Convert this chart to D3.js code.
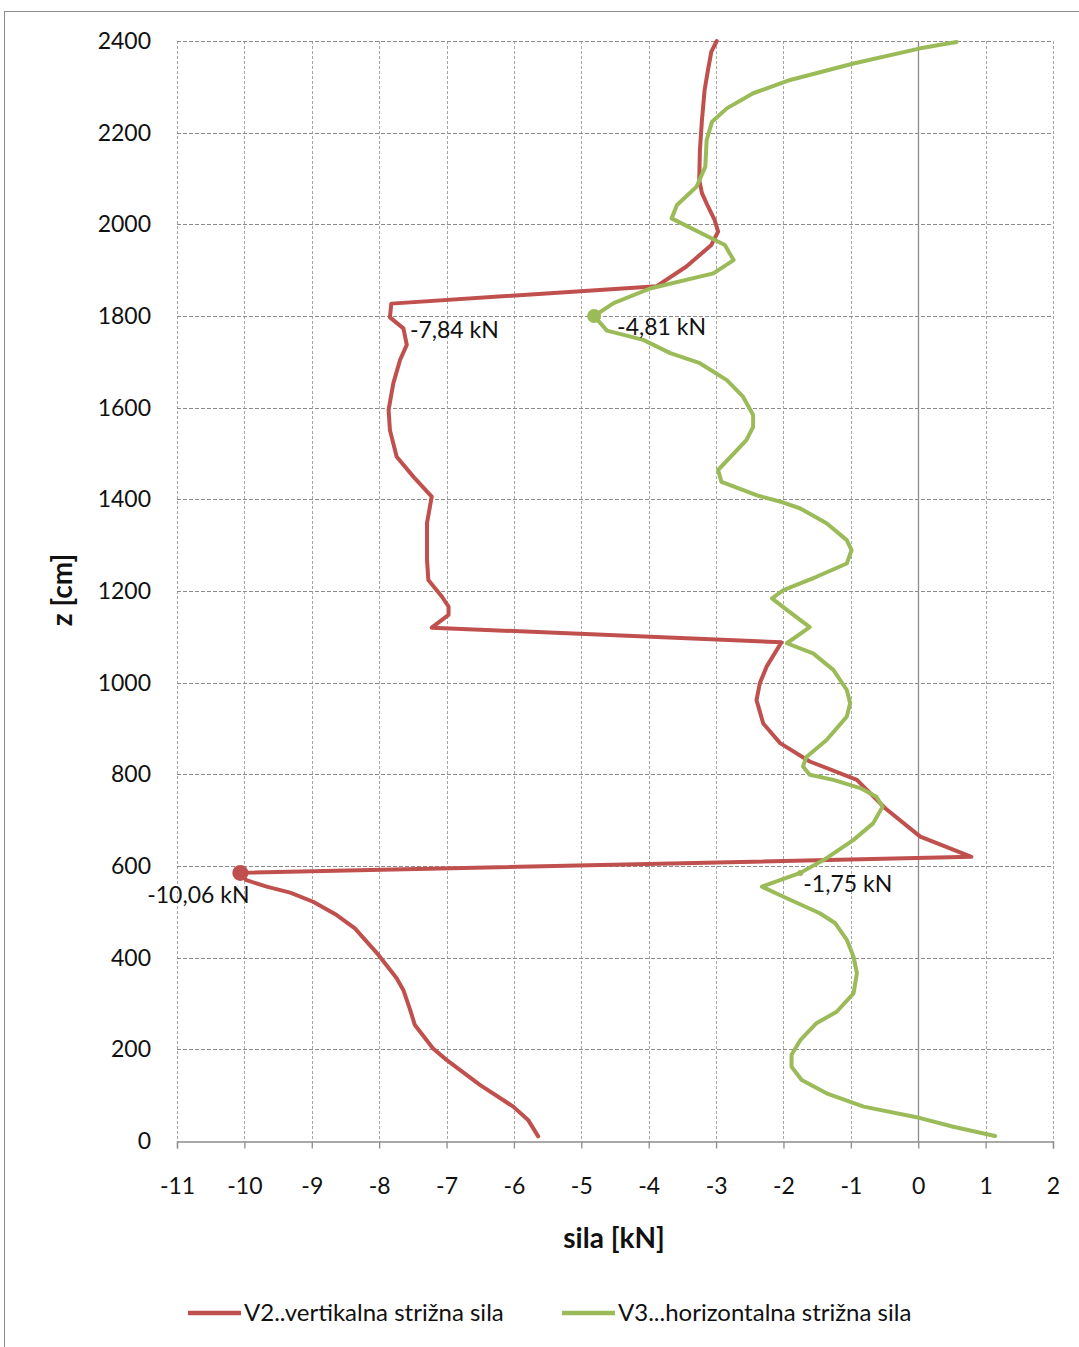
<!DOCTYPE html>
<html>
<head>
<meta charset="utf-8">
<script src="https://cdn.jsdelivr.net/npm/d3@7"></script>
<style>
  html, body { margin: 0; padding: 0; background: #fff; }
  svg { display: block; font-family: Lato, "Open Sans", sans-serif; }
</style>
</head>
<body>
<svg id="chart" width="1079" height="1347"></svg>
<script>
// Shear force along the height z: [z in cm, force in kN]
const v2Points = [
  [10,-5.64],[46,-5.79],[75,-6.01],[122,-6.50],[177,-7.00],[202,-7.20],[253,-7.47],[286,-7.54],
  [329,-7.64],[355,-7.74],[406,-8.01],[464,-8.36],[493,-8.63],[522,-8.98],[542,-9.32],[555,-9.67],
  [569,-9.97],[585,-10.06],[620,0.79],[664,0.03],[726,-0.49],[788,-0.91],[828,-1.61],[868,-2.05],
  [911,-2.30],[962,-2.40],[999,-2.35],[1035,-2.25],[1088,-2.03],[1120,-7.22],[1148,-6.97],[1166,-6.97],
  [1188,-7.07],[1224,-7.27],[1268,-7.29],[1348,-7.29],[1406,-7.22],[1449,-7.49],[1493,-7.74],[1551,-7.84],
  [1595,-7.86],[1653,-7.79],[1704,-7.69],[1737,-7.59],[1773,-7.64],[1797,-7.84],[1827,-7.82],[1865,-3.88],
  [1908,-3.44],[1955,-3.07],[1984,-2.97],[2009,-3.02],[2039,-3.12],[2068,-3.21],[2097,-3.25],[2162,-3.24],
  [2227,-3.21],[2293,-3.17],[2337,-3.12],[2377,-3.07],[2400,-2.99]
];
const v3Points = [
  [11,1.14],[31,0.52],[50,0.03],[75,-0.81],[104,-1.36],[133,-1.73],[162,-1.88],[188,-1.88],
  [220,-1.75],[257,-1.51],[282,-1.21],[322,-0.96],[366,-0.91],[402,-0.96],[439,-1.06],[475,-1.23],
  [497,-1.46],[533,-2.00],[555,-2.32],[585,-1.75],[617,-1.36],[657,-0.96],[693,-0.67],[729,-0.53],
  [751,-0.62],[770,-0.86],[788,-1.26],[799,-1.61],[817,-1.71],[838,-1.66],[875,-1.36],[926,-1.06],
  [955,-1.01],[984,-1.06],[1028,-1.26],[1064,-1.56],[1086,-1.95],[1121,-1.61],[1159,-1.95],[1184,-2.17],
  [1202,-2.00],[1231,-1.51],[1260,-1.06],[1289,-0.99],[1311,-1.06],[1348,-1.36],[1380,-1.75],[1393,-2.00],
  [1409,-2.40],[1438,-2.92],[1464,-2.97],[1529,-2.55],[1558,-2.45],[1584,-2.45],[1624,-2.60],[1660,-2.84],
  [1697,-3.24],[1719,-3.68],[1748,-4.08],[1768,-4.62],[1800,-4.81],[1828,-4.52],[1860,-3.98],[1893,-3.04],
  [1922,-2.74],[1955,-2.87],[2013,-3.66],[2042,-3.58],[2082,-3.29],[2126,-3.16],[2184,-3.14],[2224,-3.06],
  [2253,-2.84],[2286,-2.45],[2315,-1.90],[2351,-0.96],[2384,0.03],[2398,0.57]
];
// Highlighted extreme values: [series, z, force, label]
const annotations = [
  ["v2", 1797, -7.84, "-7,84 kN"],
  ["v3", 1800, -4.81, "-4,81 kN"],
  ["v2", 585, -10.06, "-10,06 kN"],
  ["v3", 585, -1.75, "-1,75 kN"]
];
const xTicks = [-11,-10,-9,-8,-7,-6,-5,-4,-3,-2,-1,0,1,2];
const zTicks = [0,200,400,600,800,1000,1200,1400,1600,1800,2000,2200,2400];
const seriesNames = ["V2..vertikalna strižna sila", "V3...horizontalna strižna sila"];
const colors = { v2: "#C0504D", v3: "#9BBB59" };

const svg = d3.select("#chart");
const plot = { left: 177, right: 1053, top: 41, bottom: 1141 };
const x = d3.scaleLinear().domain([-11, 2]).range([plot.left, plot.right]);
const y = d3.scaleLinear().domain([0, 2400]).range([plot.bottom, plot.top]);

// outer chart frame
svg.append("rect").attr("x", 4.5).attr("y", 11.5).attr("width", 1200).attr("height", 1400)
  .attr("fill", "none").attr("stroke", "#8c8c8c").attr("stroke-width", 1);

// grid
const grid = svg.append("g");
grid.selectAll(".vg").data(xTicks.filter(d => d !== 0)).join("line")
  .attr("x1", d => Math.round(x(d)) + 0.5).attr("x2", d => Math.round(x(d)) + 0.5)
  .attr("y1", plot.top).attr("y2", plot.bottom)
  .attr("stroke", "#a6a6a6").attr("stroke-dasharray", "3,2").attr("stroke-width", 1);
grid.selectAll(".hg").data(zTicks.filter(d => d !== 0)).join("line")
  .attr("x1", plot.left).attr("x2", plot.right)
  .attr("y1", d => Math.round(y(d)) + 0.5).attr("y2", d => Math.round(y(d)) + 0.5)
  .attr("stroke", "#8c8c8c").attr("stroke-dasharray", "4,2").attr("stroke-width", 1);

// vertical axis line at 0 kN
svg.append("line").attr("x1", Math.round(x(0)) + 0.5).attr("x2", Math.round(x(0)) + 0.5)
  .attr("y1", plot.top).attr("y2", plot.bottom).attr("stroke", "#8c8c8c").attr("stroke-width", 1.3);

// bottom axis
const xAxis = d3.axisBottom(x).tickValues(xTicks).tickSize(7).tickPadding(26).tickFormat(d3.format("d"));
const gx = svg.append("g").attr("transform", `translate(0,${plot.bottom + 0.5})`).call(xAxis);
gx.select(".domain").attr("stroke", "#8c8c8c").attr("stroke-width", 1.3);
gx.selectAll(".tick line").attr("stroke", "#8c8c8c").attr("stroke-width", 1.3);
gx.selectAll("text").attr("font-size", 23).attr("fill", "#111").attr("font-family", "Lato, sans-serif")
  .attr("dy", "0.35em").attr("y", 44)
  .text(d => d < 0 ? "-" + Math.abs(d) : d);

// left tick labels
const yAxis = d3.axisLeft(y).tickValues(zTicks).tickSize(0).tickPadding(26).tickFormat(d3.format("d"));
const gy = svg.append("g").attr("transform", `translate(${plot.left},0)`).call(yAxis);
gy.select(".domain").remove();
gy.selectAll("text").attr("font-size", 23).attr("fill", "#111").attr("font-family", "Lato, sans-serif");

// axis titles
svg.append("text").attr("x", 614).attr("y", 1238).attr("dy", "0.35em").attr("text-anchor", "middle")
  .attr("font-size", 28).attr("font-weight", "bold").attr("fill", "#111").text("sila [kN]");
svg.append("text").attr("transform", "translate(62,590) rotate(-90)").attr("dy", "0.35em").attr("text-anchor", "middle")
  .attr("font-size", 28).attr("font-weight", "bold").attr("fill", "#111").text("z [cm]");

// series lines
const line = d3.line().x(d => x(d[1])).y(d => y(d[0]));
svg.append("path").datum(v2Points).attr("d", line).attr("fill", "none")
  .attr("stroke", colors.v2).attr("stroke-width", 4).attr("stroke-linejoin", "round").attr("stroke-linecap", "round");
svg.append("path").datum(v3Points).attr("d", line).attr("fill", "none")
  .attr("stroke", colors.v3).attr("stroke-width", 4).attr("stroke-linejoin", "round").attr("stroke-linecap", "round");

// annotated points and their labels
const labelOffsets = [[20, 13, "start"], [23, 11, "start"], [-42, 22, "middle"], [3, 11, "start"]];
const markerRadius = [0, 7, 8, 3];
annotations.forEach((a, i) => {
  const px = x(a[2]), py = y(a[1]);
  if (markerRadius[i] > 0) {
    svg.append("circle").attr("cx", px).attr("cy", py).attr("r", markerRadius[i]).attr("fill", colors[a[0]]);
  }
  svg.append("text").attr("x", px + labelOffsets[i][0]).attr("y", py + labelOffsets[i][1])
    .attr("dy", "0.35em").attr("text-anchor", labelOffsets[i][2])
    .attr("font-size", 23).attr("fill", "#111").text(a[3]);
});

// legend
const legend = svg.append("g");
[["v2", 188], ["v3", 562]].forEach((s, i) => {
  legend.append("line").attr("x1", s[1]).attr("x2", s[1] + 53).attr("y1", 1313).attr("y2", 1313)
    .attr("stroke", colors[s[0]]).attr("stroke-width", 4.5);
  legend.append("text").attr("x", s[1] + 56).attr("y", 1313).attr("dy", "0.35em")
    .attr("font-size", 24).attr("fill", "#111").text(seriesNames[i]);
});
</script>
</body>
</html>
